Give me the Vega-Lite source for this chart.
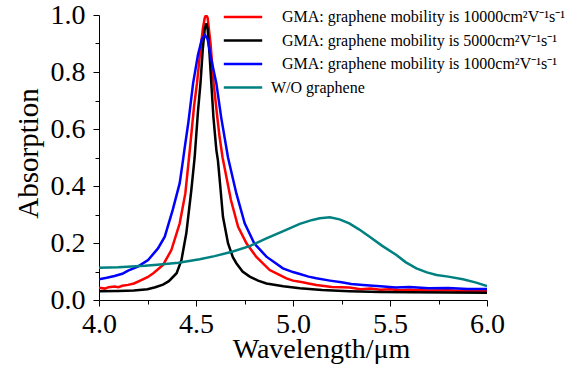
{
  "$schema": "https://vega.github.io/schema/vega-lite/v6.json",
  "width": 388,
  "height": 285,
  "autosize": "none",
  "padding": {"left": 99, "top": 15, "right": 87, "bottom": 70},
  "background": "white",
  "config": {"view": {"stroke": null}, "font": "Liberation Serif", "legend": {"labelFont": "Liberation Serif"}},
  "datasets": {
    "curves": [
      {"s": "A", "w": 4.00, "a": 0.043}, {"s": "A", "w": 4.03, "a": 0.040}, {"s": "A", "w": 4.05, "a": 0.045}, {"s": "A", "w": 4.08, "a": 0.047}, {"s": "A", "w": 4.10, "a": 0.045}, {"s": "A", "w": 4.12, "a": 0.050}, {"s": "A", "w": 4.15, "a": 0.053}, {"s": "A", "w": 4.18, "a": 0.058}, {"s": "A", "w": 4.218, "a": 0.070}, {"s": "A", "w": 4.25, "a": 0.080}, {"s": "A", "w": 4.28, "a": 0.094}, {"s": "A", "w": 4.33, "a": 0.123}, {"s": "A", "w": 4.373, "a": 0.175}, {"s": "A", "w": 4.416, "a": 0.269}, {"s": "A", "w": 4.445, "a": 0.374}, {"s": "A", "w": 4.468, "a": 0.526}, {"s": "A", "w": 4.49, "a": 0.68}, {"s": "A", "w": 4.505, "a": 0.76}, {"s": "A", "w": 4.52, "a": 0.86}, {"s": "A", "w": 4.535, "a": 0.95}, {"s": "A", "w": 4.545, "a": 0.99}, {"s": "A", "w": 4.552, "a": 1.0}, {"s": "A", "w": 4.56, "a": 0.99}, {"s": "A", "w": 4.575, "a": 0.90}, {"s": "A", "w": 4.591, "a": 0.76}, {"s": "A", "w": 4.61, "a": 0.64}, {"s": "A", "w": 4.622, "a": 0.57}, {"s": "A", "w": 4.637, "a": 0.50}, {"s": "A", "w": 4.66, "a": 0.42}, {"s": "A", "w": 4.68, "a": 0.351}, {"s": "A", "w": 4.717, "a": 0.257}, {"s": "A", "w": 4.76, "a": 0.199}, {"s": "A", "w": 4.81, "a": 0.152}, {"s": "A", "w": 4.88, "a": 0.105}, {"s": "A", "w": 4.93, "a": 0.088}, {"s": "A", "w": 4.966, "a": 0.076}, {"s": "A", "w": 5.0, "a": 0.068}, {"s": "A", "w": 5.05, "a": 0.062}, {"s": "A", "w": 5.08, "a": 0.058}, {"s": "A", "w": 5.12, "a": 0.053}, {"s": "A", "w": 5.2, "a": 0.046}, {"s": "A", "w": 5.25, "a": 0.045}, {"s": "A", "w": 5.29, "a": 0.044}, {"s": "A", "w": 5.35, "a": 0.038}, {"s": "A", "w": 5.4, "a": 0.040}, {"s": "A", "w": 5.45, "a": 0.036}, {"s": "A", "w": 5.5, "a": 0.038}, {"s": "A", "w": 5.55, "a": 0.034}, {"s": "A", "w": 5.6, "a": 0.036}, {"s": "A", "w": 5.7, "a": 0.033}, {"s": "A", "w": 5.8, "a": 0.034}, {"s": "A", "w": 5.9, "a": 0.031}, {"s": "A", "w": 6.0, "a": 0.032},

      {"s": "B", "w": 4.00, "a": 0.031}, {"s": "B", "w": 4.10, "a": 0.032}, {"s": "B", "w": 4.18, "a": 0.033}, {"s": "B", "w": 4.25, "a": 0.038}, {"s": "B", "w": 4.29, "a": 0.045}, {"s": "B", "w": 4.33, "a": 0.054}, {"s": "B", "w": 4.36, "a": 0.066}, {"s": "B", "w": 4.40, "a": 0.094}, {"s": "B", "w": 4.425, "a": 0.14}, {"s": "B", "w": 4.45, "a": 0.234}, {"s": "B", "w": 4.476, "a": 0.386}, {"s": "B", "w": 4.493, "a": 0.50}, {"s": "B", "w": 4.51, "a": 0.66}, {"s": "B", "w": 4.523, "a": 0.76}, {"s": "B", "w": 4.535, "a": 0.88}, {"s": "B", "w": 4.545, "a": 0.95}, {"s": "B", "w": 4.553, "a": 0.971}, {"s": "B", "w": 4.56, "a": 0.95}, {"s": "B", "w": 4.57, "a": 0.86}, {"s": "B", "w": 4.579, "a": 0.76}, {"s": "B", "w": 4.59, "a": 0.64}, {"s": "B", "w": 4.605, "a": 0.526}, {"s": "B", "w": 4.613, "a": 0.49}, {"s": "B", "w": 4.625, "a": 0.40}, {"s": "B", "w": 4.639, "a": 0.292}, {"s": "B", "w": 4.665, "a": 0.199}, {"s": "B", "w": 4.69, "a": 0.15}, {"s": "B", "w": 4.708, "a": 0.129}, {"s": "B", "w": 4.74, "a": 0.10}, {"s": "B", "w": 4.777, "a": 0.082}, {"s": "B", "w": 4.82, "a": 0.068}, {"s": "B", "w": 4.863, "a": 0.058}, {"s": "B", "w": 4.95, "a": 0.048}, {"s": "B", "w": 5.035, "a": 0.041}, {"s": "B", "w": 5.15, "a": 0.035}, {"s": "B", "w": 5.29, "a": 0.031}, {"s": "B", "w": 5.45, "a": 0.028}, {"s": "B", "w": 5.6, "a": 0.027}, {"s": "B", "w": 5.8, "a": 0.026}, {"s": "B", "w": 6.0, "a": 0.025},

      {"s": "C", "w": 4.00, "a": 0.073}, {"s": "C", "w": 4.04, "a": 0.078}, {"s": "C", "w": 4.08, "a": 0.084}, {"s": "C", "w": 4.12, "a": 0.092}, {"s": "C", "w": 4.15, "a": 0.103}, {"s": "C", "w": 4.20, "a": 0.117}, {"s": "C", "w": 4.253, "a": 0.14}, {"s": "C", "w": 4.304, "a": 0.181}, {"s": "C", "w": 4.339, "a": 0.222}, {"s": "C", "w": 4.38, "a": 0.316}, {"s": "C", "w": 4.416, "a": 0.41}, {"s": "C", "w": 4.433, "a": 0.491}, {"s": "C", "w": 4.44, "a": 0.526}, {"s": "C", "w": 4.46, "a": 0.62}, {"s": "C", "w": 4.485, "a": 0.76}, {"s": "C", "w": 4.51, "a": 0.86}, {"s": "C", "w": 4.53, "a": 0.915}, {"s": "C", "w": 4.546, "a": 0.93}, {"s": "C", "w": 4.56, "a": 0.915}, {"s": "C", "w": 4.58, "a": 0.84}, {"s": "C", "w": 4.605, "a": 0.76}, {"s": "C", "w": 4.63, "a": 0.64}, {"s": "C", "w": 4.665, "a": 0.50}, {"s": "C", "w": 4.708, "a": 0.374}, {"s": "C", "w": 4.751, "a": 0.269}, {"s": "C", "w": 4.8, "a": 0.199}, {"s": "C", "w": 4.863, "a": 0.152}, {"s": "C", "w": 4.948, "a": 0.111}, {"s": "C", "w": 5.0, "a": 0.098}, {"s": "C", "w": 5.035, "a": 0.091}, {"s": "C", "w": 5.08, "a": 0.082}, {"s": "C", "w": 5.12, "a": 0.076}, {"s": "C", "w": 5.19, "a": 0.068}, {"s": "C", "w": 5.25, "a": 0.062}, {"s": "C", "w": 5.30, "a": 0.056}, {"s": "C", "w": 5.36, "a": 0.053}, {"s": "C", "w": 5.45, "a": 0.048}, {"s": "C", "w": 5.53, "a": 0.044}, {"s": "C", "w": 5.6, "a": 0.046}, {"s": "C", "w": 5.7, "a": 0.041}, {"s": "C", "w": 5.8, "a": 0.042}, {"s": "C", "w": 5.9, "a": 0.039}, {"s": "C", "w": 6.0, "a": 0.039},

      {"s": "D", "w": 4.00, "a": 0.113}, {"s": "D", "w": 4.1, "a": 0.115}, {"s": "D", "w": 4.236, "a": 0.12}, {"s": "D", "w": 4.3, "a": 0.124}, {"s": "D", "w": 4.41, "a": 0.131}, {"s": "D", "w": 4.519, "a": 0.143}, {"s": "D", "w": 4.596, "a": 0.154}, {"s": "D", "w": 4.69, "a": 0.17}, {"s": "D", "w": 4.78, "a": 0.19}, {"s": "D", "w": 4.863, "a": 0.216}, {"s": "D", "w": 4.95, "a": 0.242}, {"s": "D", "w": 5.035, "a": 0.267}, {"s": "D", "w": 5.1, "a": 0.281}, {"s": "D", "w": 5.138, "a": 0.287}, {"s": "D", "w": 5.19, "a": 0.29}, {"s": "D", "w": 5.24, "a": 0.283}, {"s": "D", "w": 5.29, "a": 0.269}, {"s": "D", "w": 5.34, "a": 0.248}, {"s": "D", "w": 5.395, "a": 0.222}, {"s": "D", "w": 5.46, "a": 0.19}, {"s": "D", "w": 5.533, "a": 0.158}, {"s": "D", "w": 5.58, "a": 0.133}, {"s": "D", "w": 5.636, "a": 0.111}, {"s": "D", "w": 5.69, "a": 0.097}, {"s": "D", "w": 5.74, "a": 0.088}, {"s": "D", "w": 5.8, "a": 0.082}, {"s": "D", "w": 5.876, "a": 0.073}, {"s": "D", "w": 5.94, "a": 0.062}, {"s": "D", "w": 6.0, "a": 0.049}
    ],
    "names": [
      {"s": "A", "label": "GMA: graphene mobility is 10000cm\u00b2V\u207b\u00b9s\u207b\u00b9"},
      {"s": "B", "label": "GMA: graphene mobility is 5000cm\u00b2V\u207b\u00b9s\u207b\u00b9"},
      {"s": "C", "label": "GMA: graphene mobility is 1000cm\u00b2V\u207b\u00b9s\u207b\u00b9"},
      {"s": "D", "label": "W/O graphene"}
    ]
  },
  "data": {"name": "curves"},
  "transform": [
    {"lookup": "s", "from": {"data": {"name": "names"}, "key": "s", "fields": ["label"]}}
  ],
  "mark": {"type": "line", "strokeWidth": 2.5, "clip": true},
  "encoding": {
    "x": {
      "field": "w", "type": "quantitative",
      "scale": {"domain": [4, 6], "nice": false, "zero": false},
      "axis": {
        "title": "Wavelength/\u03bcm",
        "values": [4, 4.25, 4.5, 4.75, 5, 5.25, 5.5, 5.75, 6],
        "labelExpr": "round(datum.value*4)%2==0 ? format(datum.value, '.1f') : ''",
        "grid": false, "domainColor": "black", "tickColor": "black", "domainWidth": 1, "tickWidth": 1,
        "tickSize": {"condition": {"test": "round(datum.value*4)%2==1", "value": 4}, "value": 6},
        "labelFont": "Liberation Serif", "labelFontSize": 28, "labelColor": "black", "labelPadding": 4,
        "labelFlush": false, "labelOverlap": false,
        "titleFont": "Liberation Serif", "titleFontSize": 28, "titleFontWeight": "normal", "titleColor": "black",
        "titleX": 222, "titleY": 57, "titleBaseline": "alphabetic", "titleAlign": "center"
      }
    },
    "y": {
      "field": "a", "type": "quantitative",
      "scale": {"domain": [0, 1], "nice": false},
      "axis": {
        "title": "Absorption",
        "values": [0, 0.1, 0.2, 0.3, 0.4, 0.5, 0.6, 0.7, 0.8, 0.9, 1.0],
        "labelExpr": "round(datum.value*10)%2==0 ? format(datum.value, '.1f') : ''",
        "grid": false, "domainColor": "black", "tickColor": "black", "domainWidth": 1, "tickWidth": 1,
        "tickSize": {"condition": {"test": "round(datum.value*10)%2==1", "value": 4}, "value": 6},
        "labelFont": "Liberation Serif", "labelFontSize": 28, "labelColor": "black", "labelPadding": 8,
        "labelFlush": false, "labelOverlap": false,
        "titleFont": "Liberation Serif", "titleFontSize": 29, "titleFontWeight": "normal", "titleColor": "black",
        "titleX": -71, "titleY": 138, "titleBaseline": "middle", "titleAlign": "center", "titleAngle": -90
      }
    },
    "color": {
      "field": "label", "type": "nominal",
      "scale": {
        "domain": [
          "GMA: graphene mobility is 10000cm\u00b2V\u207b\u00b9s\u207b\u00b9",
          "GMA: graphene mobility is 5000cm\u00b2V\u207b\u00b9s\u207b\u00b9",
          "GMA: graphene mobility is 1000cm\u00b2V\u207b\u00b9s\u207b\u00b9",
          "W/O graphene"
        ],
        "range": ["#ff0000", "#000000", "#0000ff", "#008080"]
      },
      "legend": {
        "orient": "none", "legendX": 136, "legendY": -6, "padding": 0,
        "title": null, "symbolType": "M-3.2,0H3.2", "symbolSize": 144, "symbolStrokeWidth": 2.5,
        "labelFont": "Liberation Serif", "labelFontSize": 16, "labelColor": "black",
        "labelOffset": 31, "labelLimit": 0, "rowPadding": 7.5,
        "encode": {"labels": {"update": {"dx": {"signal": "datum.label == 'W/O graphene' ? -11 : 0"}}}}
      }
    }
  }
}
